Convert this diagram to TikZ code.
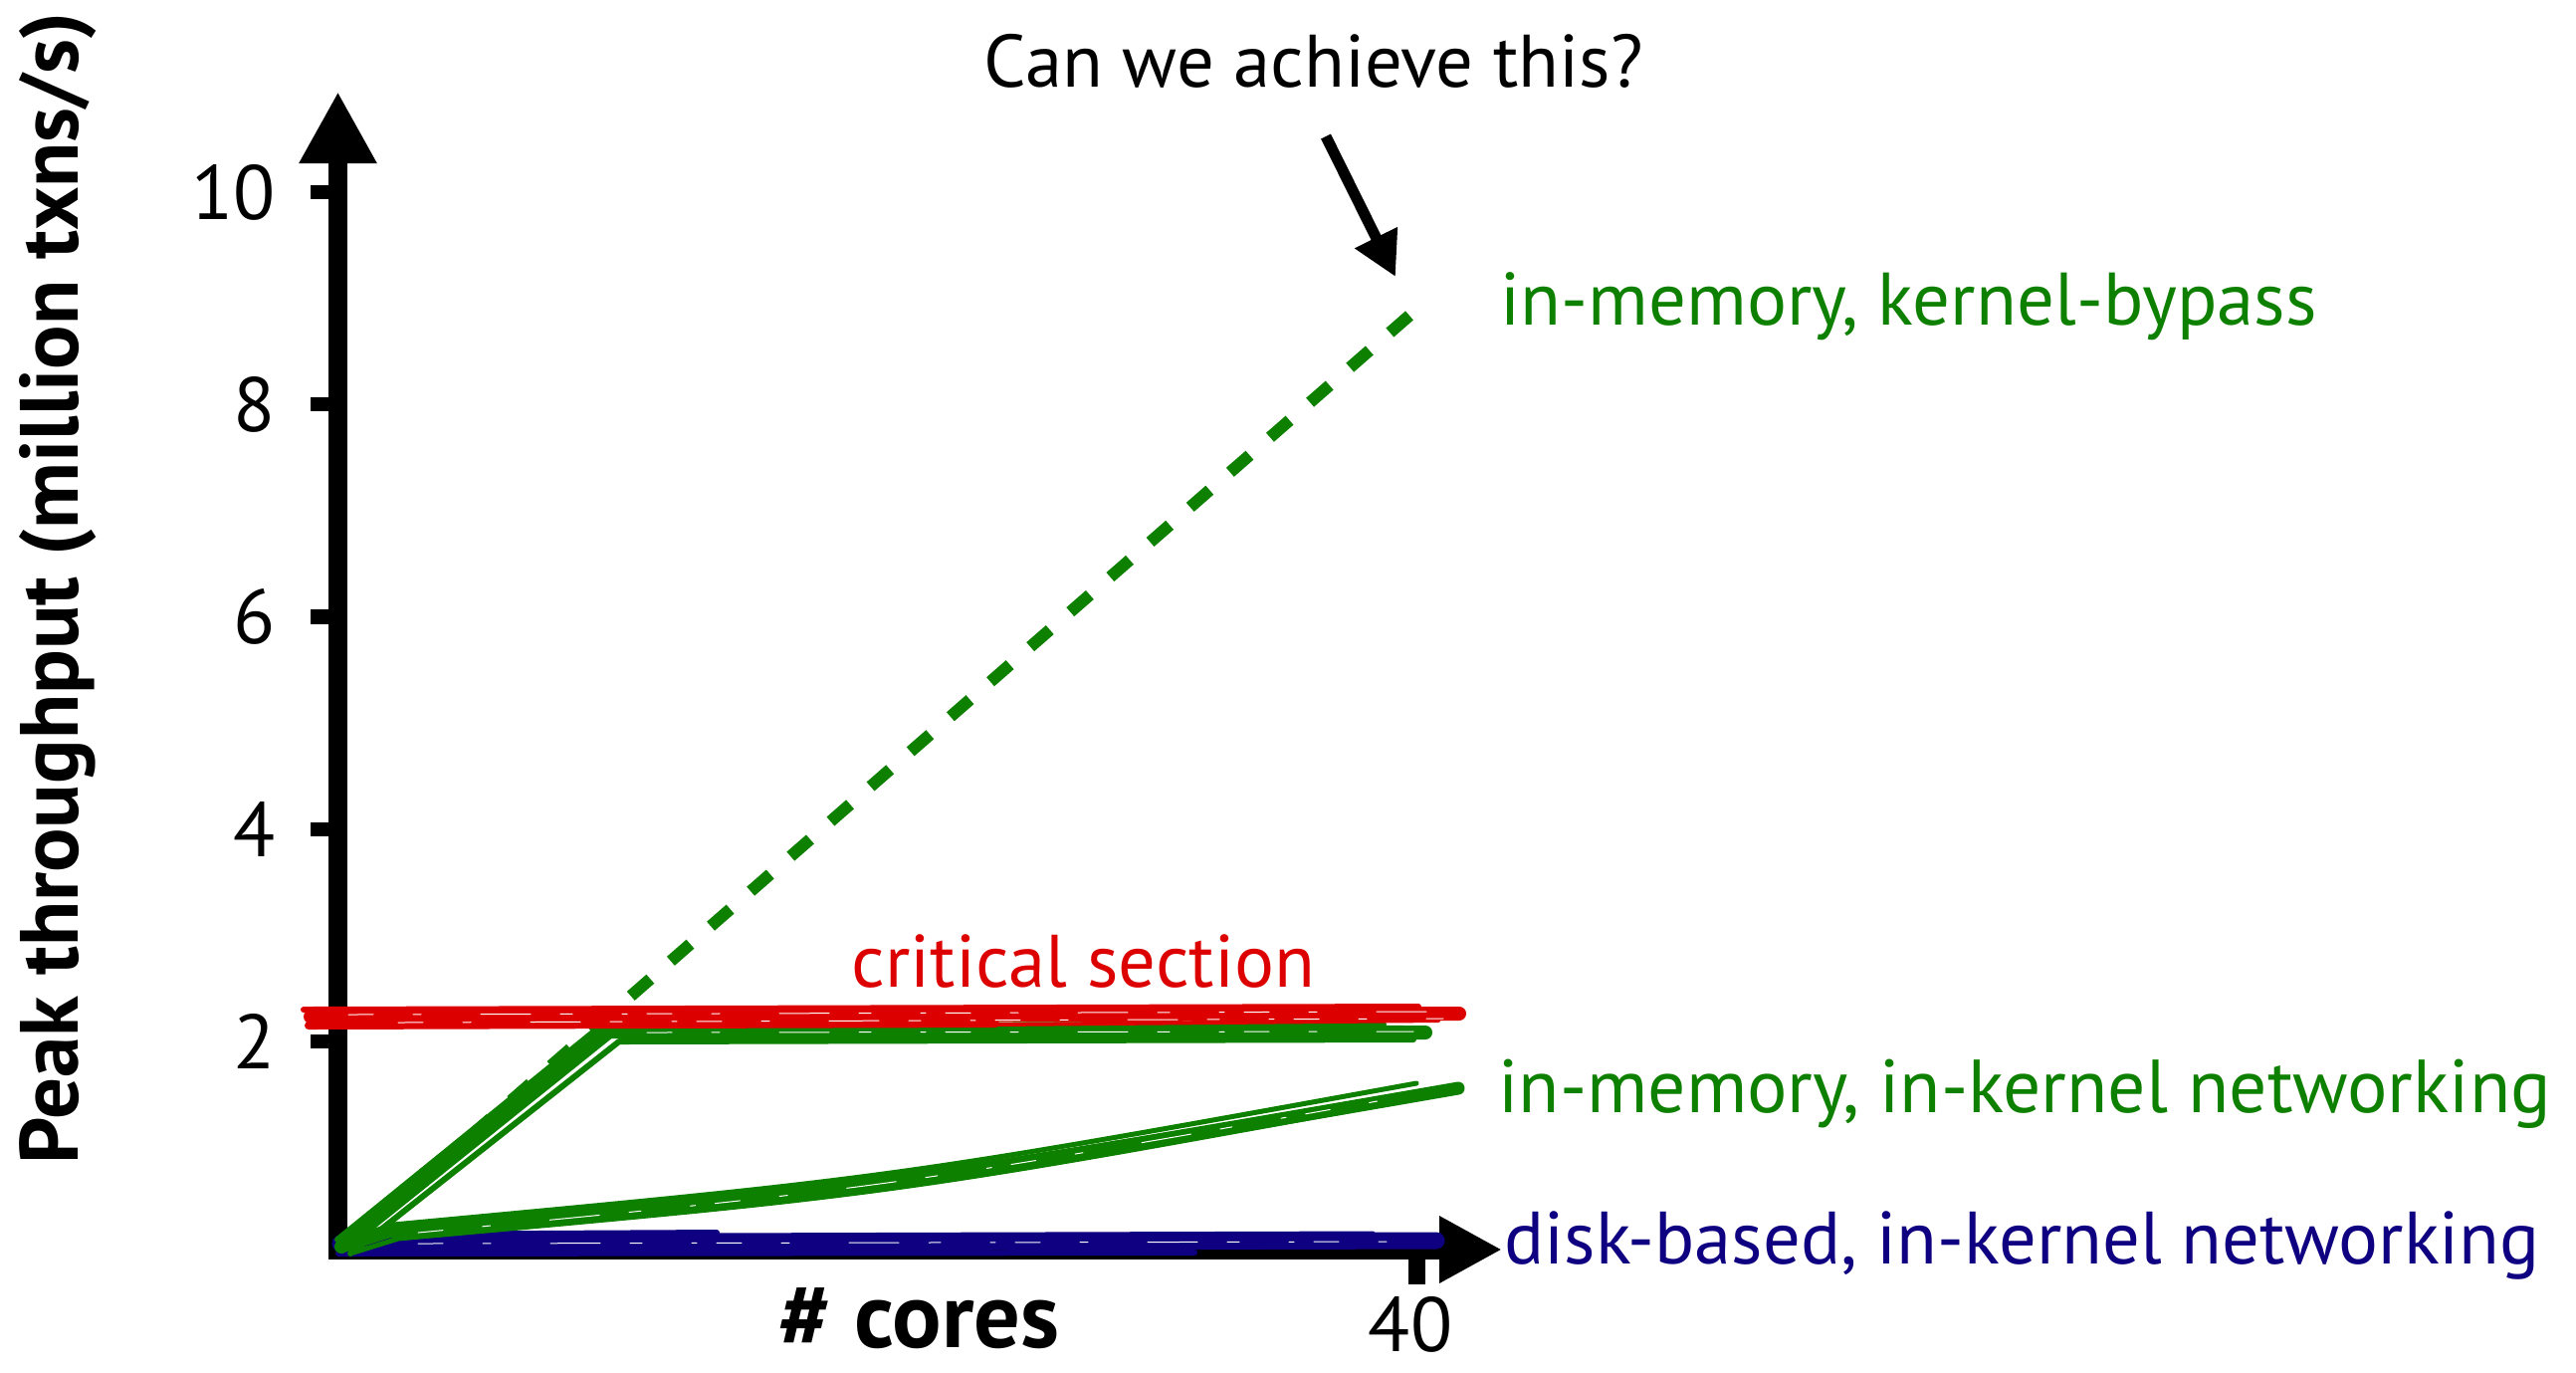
\documentclass[tikz,border=0pt]{standalone}
\usepackage{fontspec}
\setmainfont{PT Sans}
\usetikzlibrary{arrows.meta}
\definecolor{mygreen}{RGB}{14,128,0}
\definecolor{myred}{RGB}{221,0,0}
\definecolor{myblue}{RGB}{14,0,128}
\begin{document}
\begin{tikzpicture}[x=0.1mm,y=-0.1mm,
  axisline/.style={line width=1.9mm, line cap=butt},
  tickmark/.style={line width=1.45mm},
  ticklabel/.style={inner sep=0pt, anchor=east, font=\fontsize{22}{24}\selectfont},
  lbl/.style={inner sep=0pt, anchor=base west},
  strand/.style={line cap=round, line join=round},
  speckle/.style={white, line width=0.1mm, line cap=round, dash pattern=on 2.5mm off 4mm on 0.8mm off 6mm on 5mm off 3mm on 1.2mm off 5mm on 0.5mm off 2mm},
]
\path[use as bounding box] (0,0) rectangle (2588,1378);

% axes
\coordinate (O) at (339.5,1264);
\coordinate (ytop) at (339.5,92);
\coordinate (xO) at (330,1255);
\coordinate (xend) at (1509,1255);
\draw[axisline,-{Triangle[length=7.2mm,width=7.3mm]}] (O) -- (ytop);
\draw[axisline,-{Triangle[length=6.3mm,width=6.3mm]}] (xO) -- (xend);

\foreach \v/\y in {10/193, 8/406, 6/619.5, 4/833, 2/1046} {
  \draw[tickmark] (312,\y) -- (331,\y);
  \node[ticklabel] (t\v) at (277,\y) {\v};
}
\coordinate (xt1) at (1423,1255);
\coordinate (xt2) at (1423,1290);
\draw[line width=1.7mm] (xt1) -- (xt2);
\node[inner sep=0pt, anchor=base, font=\fontsize{22}{24}\selectfont] (t40) at (1417,1357) {40};

% blue: disk-based
\begin{scope}[strand, myblue]
\draw[line width=1.7mm] (342,1249) -- (1443,1246);
\draw[line width=0.6mm] (350,1240) -- (720,1238);
\draw[line width=0.3mm] (700,1240) -- (1380,1238);
\draw[line width=0.6mm] (340,1259) -- (1200,1258);
\end{scope}
\draw[speckle] (420,1249) -- (1420,1247);

% green: in-memory, in-kernel
\begin{scope}[strand, mygreen]
\draw[line width=1.3mm] (343,1252) -- (390,1237) .. controls (900,1191) .. (1465,1093);
\draw[line width=0.5mm] (350,1245) -- (395,1230) .. controls (900,1183) .. (1423,1088);
\draw[line width=0.5mm] (355,1258) -- (400,1244) .. controls (900,1199) .. (1440,1100);
\end{scope}
\draw[speckle] (420,1238) .. controls (900,1192) .. (1440,1096);

% green: saturating
\begin{scope}[strand, mygreen]
\draw[line width=1.4mm] (343,1252) -- (612,1036) -- (1432,1037);
\draw[line width=0.6mm] (339,1245) -- (604,1030) -- (1390,1029);
\draw[line width=0.6mm] (352,1259) -- (622,1046) -- (1420,1044);
\end{scope}
\draw[speckle] (650,1037) -- (1420,1036);

% dashed: kernel-bypass target
\coordinate (dstart) at (340,1257);
\coordinate (dend) at (1417,316);
\draw[mygreen, line width=1.2mm, dash pattern=on 2.6mm off 2.73mm, dash phase=3.63mm] (dstart) -- (dend);

% red: critical section
\begin{scope}[strand, myred]
\draw[line width=1.4mm] (312,1021) -- (1466,1018);
\draw[line width=0.6mm] (305,1014) -- (1425,1011);
\draw[line width=0.8mm] (310,1030) -- (1000,1028);
\draw[line width=0.4mm] (1000,1029) -- (1445,1025);
\end{scope}
\draw[speckle] (350,1019) -- (1440,1016);
\draw[speckle] (400,1027) -- (1450,1023);

% labels
\node[lbl] (q) at (988,87) {\resizebox{66.2mm}{!}{Can we achieve this?}};
\coordinate (qstart) at (1332,137);
\coordinate (qtip) at (1402,278);
\draw[line width=1.1mm, -{Triangle[length=4.4mm,width=4.5mm]}] (qstart) -- (qtip);

\node[lbl, text=mygreen] (kb) at (1507,326) {\resizebox{82mm}{!}{in-memory, kernel-bypass}};
\node[lbl, text=myred] (cs) at (855,991) {\resizebox{46.5mm}{!}{critical section}};
\node[lbl, text=mygreen] (ik) at (1505,1117) {\resizebox{105.7mm}{!}{in-memory, in-kernel networking}};
\node[lbl, text=myblue] (db) at (1511,1269) {\resizebox{104mm}{!}{disk-based, in-kernel networking}};

\node[lbl, rotate=90] (ylab) at (78,1170) {\resizebox{115.7mm}{!}{\bfseries Peak throughput (million txns/s)}};
\node[lbl] (xlab) at (782,1353) {\resizebox{28.2mm}{!}{\bfseries \# cores}};
\end{tikzpicture}
\end{document}
